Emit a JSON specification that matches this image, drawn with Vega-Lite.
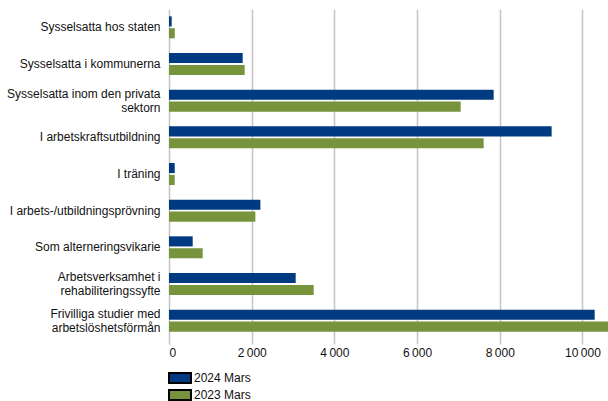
{
  "$schema": "https://vega.github.io/schema/vega-lite/v6.json",
  "width": 439,
  "height": 330,
  "autosize": {"type": "none"},
  "padding": {"left": 169, "top": 9, "right": 0, "bottom": 62},
  "background": "white",
  "config": {
    "view": {"stroke": null},
    "font": "Liberation Sans",
    "axis": {"labelFont": "Liberation Sans", "labelFontSize": 12, "labelColor": "#111111"},
    "legend": {"labelFont": "Liberation Sans", "labelFontSize": 12, "labelColor": "#111111"}
  },
  "data": {
    "values": [
      {"cat": "Sysselsatta hos staten", "serie": "2024 Mars", "value": 65},
      {"cat": "Sysselsatta hos staten", "serie": "2023 Mars", "value": 140},
      {"cat": "Sysselsatta i kommunerna", "serie": "2024 Mars", "value": 1782},
      {"cat": "Sysselsatta i kommunerna", "serie": "2023 Mars", "value": 1830},
      {"cat": "Sysselsatta inom den privata|sektorn", "serie": "2024 Mars", "value": 7852},
      {"cat": "Sysselsatta inom den privata|sektorn", "serie": "2023 Mars", "value": 7054},
      {"cat": "I arbetskraftsutbildning", "serie": "2024 Mars", "value": 9254},
      {"cat": "I arbetskraftsutbildning", "serie": "2023 Mars", "value": 7610},
      {"cat": "I träning", "serie": "2024 Mars", "value": 138},
      {"cat": "I träning", "serie": "2023 Mars", "value": 138},
      {"cat": "I arbets-/utbildningsprövning", "serie": "2024 Mars", "value": 2210},
      {"cat": "I arbets-/utbildningsprövning", "serie": "2023 Mars", "value": 2089},
      {"cat": "Som alterneringsvikarie", "serie": "2024 Mars", "value": 573},
      {"cat": "Som alterneringsvikarie", "serie": "2023 Mars", "value": 815},
      {"cat": "Arbetsverksamhet i|rehabiliteringssyfte", "serie": "2024 Mars", "value": 3064},
      {"cat": "Arbetsverksamhet i|rehabiliteringssyfte", "serie": "2023 Mars", "value": 3499},
      {"cat": "Frivilliga studier med|arbetslöshetsförmån", "serie": "2024 Mars", "value": 10295},
      {"cat": "Frivilliga studier med|arbetslöshetsförmån", "serie": "2023 Mars", "value": 10700}
    ]
  },
  "mark": {"type": "bar", "clip": true},
  "encoding": {
    "y": {
      "field": "cat",
      "type": "nominal",
      "sort": null,
      "scale": {"paddingInner": 0.4, "paddingOuter": 0.2},
      "axis": {
        "title": null,
        "ticks": false,
        "domain": false,
        "labelPadding": 9,
        "labelLineHeight": 14,
        "labelLimit": 200,
        "labelOffset": {"condition": {"test": "indexof(datum.value, '|') >= 0", "value": -7}, "value": 0},
        "labelExpr": "split(datum.label, '|')"
      }
    },
    "yOffset": {
      "field": "serie",
      "type": "nominal",
      "sort": ["2024 Mars", "2023 Mars"],
      "scale": {"paddingInner": 0.15, "paddingOuter": 0}
    },
    "x": {
      "field": "value",
      "type": "quantitative",
      "scale": {"domain": [0, 10617], "nice": false},
      "axis": {
        "title": null,
        "values": [0, 2000, 4000, 6000, 8000, 10000],
        "domain": false,
        "grid": true,
        "gridColor": "#c4c4c4",
        "gridWidth": 1.5,
        "tickColor": "#c4c4c4",
        "tickWidth": 1.5,
        "tickSize": 5,
        "labelPadding": 3,
        "labelExpr": "replace(format(datum.value, ','), ',', '\u2009')"
      }
    },
    "fill": {
      "field": "serie",
      "type": "nominal",
      "sort": ["2024 Mars", "2023 Mars"],
      "scale": {"domain": ["2024 Mars", "2023 Mars"], "range": ["#003a80", "#77933c"]},
      "legend": {
        "title": null,
        "orient": "none",
        "legendX": 5,
        "legendY": 363,
        "symbolType": "M-4.4,-2H4.4V2H-4.4Z",
        "symbolSize": 25,
        "symbolStrokeColor": "black",
        "symbolStrokeWidth": 2,
        "labelOffset": 8,
        "rowPadding": -1
      }
    }
  }
}
